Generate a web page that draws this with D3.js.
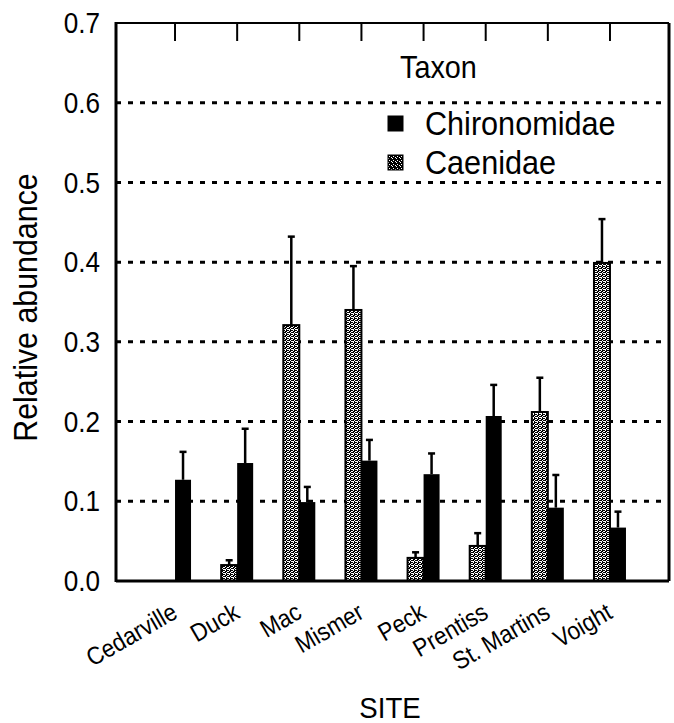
<!DOCTYPE html>
<html>
<head>
<meta charset="utf-8">
<script src="https://cdn.jsdelivr.net/npm/d3@7"></script>
<style>
  html, body { margin: 0; padding: 0; background: #fff; }
  svg text { font-family: "Liberation Sans", Arial, Helvetica, sans-serif; fill: #000; }
</style>
</head>
<body>
<svg id="chart" width="674" height="723"></svg>
<script>
// Relative abundance of two taxa at eight sites (mean + upper error bar)
const sites = ["Cedarville", "Duck", "Mac", "Mismer", "Peck", "Prentiss", "St. Martins", "Voight"];
const chironomidae    = [0.127, 0.148, 0.099, 0.151, 0.134, 0.207, 0.092, 0.067];
const chironomidaeErr = [0.035, 0.043, 0.019, 0.026, 0.026, 0.039, 0.041, 0.020];
const caenidae        = [0.000, 0.020, 0.321, 0.340, 0.029, 0.044, 0.212, 0.399];
const caenidaeErr     = [0.000, 0.006, 0.111, 0.055, 0.007, 0.016, 0.043, 0.055];
const yTicks = [0.0, 0.1, 0.2, 0.3, 0.4, 0.5, 0.6, 0.7];
const gridValues = [0.1, 0.2, 0.3, 0.4, 0.5, 0.6];
const taxa = ["Chironomidae", "Caenidae"];

const svg = d3.select("#chart");
const plotLeft = 116, plotRight = 669, plotTop = 23, plotBottom = 581;
const barW = 16;

const x = d3.scalePoint().domain(sites).range([plotLeft, plotRight]).padding(0.95);
const y = d3.scaleLinear().domain([0, 0.7]).range([plotBottom, plotTop]);

// squeeze glyphs horizontally to get the narrow typeface look
function condense(sel, f) {
  sel.each(function () {
    const len = this.getComputedTextLength();
    d3.select(this).attr("textLength", len * f).attr("lengthAdjust", "spacingAndGlyphs");
  });
}

// stipple fills
const defs = svg.append("defs");
const stip = defs.append("pattern").attr("id", "stipple")
  .attr("patternUnits", "userSpaceOnUse").attr("width", 4).attr("height", 4);
stip.append("rect").attr("width", 4).attr("height", 4).attr("fill", "#fff");
[[0,0,2,1],[2,1,1,1],[0,2,1,1],[2,2,2,1],[1,3,2,1],[3,0,1,1]].forEach(d =>
  stip.append("rect").attr("x", d[0]).attr("y", d[1]).attr("width", d[2]).attr("height", d[3]).attr("fill", "#000"));
const stipDark = defs.append("pattern").attr("id", "stippleDark")
  .attr("patternUnits", "userSpaceOnUse").attr("width", 4).attr("height", 4);
stipDark.append("rect").attr("width", 4).attr("height", 4).attr("fill", "#000");
[[1,1],[3,2],[0,3]].forEach(d =>
  stipDark.append("rect").attr("x", d[0]).attr("y", d[1]).attr("width", 1).attr("height", 1).attr("fill", "#fff"));

// dotted gridlines
svg.append("g").selectAll("line").data(gridValues).join("line")
  .attr("x1", plotLeft).attr("x2", plotRight)
  .attr("y1", d => y(d)).attr("y2", d => y(d))
  .attr("stroke", "#000").attr("stroke-width", 3).attr("stroke-dasharray", "5,7");

// frame
svg.append("line").attr("x1", plotLeft).attr("x2", plotRight).attr("y1", plotTop).attr("y2", plotTop)
  .attr("stroke", "#000").attr("stroke-width", 2);
svg.append("line").attr("x1", plotRight).attr("x2", plotRight).attr("y1", plotTop).attr("y2", plotBottom)
  .attr("stroke", "#000").attr("stroke-width", 3);

// top ticks at each site
svg.append("g").selectAll("line").data(sites).join("line")
  .attr("x1", d => x(d)).attr("x2", d => x(d))
  .attr("y1", plotTop).attr("y2", plotTop + 18)
  .attr("stroke", "#000").attr("stroke-width", 2);

// bars
const rows = sites.map((s, i) => ({
  site: s,
  chi: chironomidae[i], chiErr: chironomidaeErr[i],
  cae: caenidae[i], caeErr: caenidaeErr[i]
}));

const bars = svg.append("g");
const caeRows = rows.filter(d => d.cae > 0);
bars.selectAll("rect.cae").data(caeRows).join("rect").attr("class", "cae")
  .attr("x", d => x(d.site) - barW).attr("width", barW)
  .attr("y", d => y(d.cae)).attr("height", d => y(0) - y(d.cae))
  .attr("fill", "url(#stipple)").attr("stroke", "#000").attr("stroke-width", 2);
bars.selectAll("rect.chi").data(rows).join("rect").attr("class", "chi")
  .attr("x", d => x(d.site)).attr("width", barW)
  .attr("y", d => y(d.chi)).attr("height", d => y(0) - y(d.chi))
  .attr("fill", "#000");

// upper error bars
const errs = [];
caeRows.forEach(d => errs.push({ cx: x(d.site) - barW / 2, v: d.cae, e: d.caeErr }));
rows.forEach(d => errs.push({ cx: x(d.site) + barW / 2, v: d.chi, e: d.chiErr }));
const eg = svg.append("g").attr("stroke", "#000").attr("stroke-width", 2.5);
eg.selectAll("line.v").data(errs).join("line").attr("class", "v")
  .attr("x1", d => d.cx).attr("x2", d => d.cx)
  .attr("y1", d => y(d.v)).attr("y2", d => y(d.v + d.e));
eg.selectAll("line.c").data(errs).join("line").attr("class", "c")
  .attr("x1", d => d.cx - 3.5).attr("x2", d => d.cx + 3.5)
  .attr("y1", d => y(d.v + d.e)).attr("y2", d => y(d.v + d.e));

// axis lines
svg.append("line").attr("x1", plotLeft).attr("x2", plotLeft).attr("y1", plotTop - 1).attr("y2", plotBottom + 1)
  .attr("stroke", "#000").attr("stroke-width", 3);
svg.append("line").attr("x1", plotLeft).attr("x2", plotRight).attr("y1", plotBottom).attr("y2", plotBottom)
  .attr("stroke", "#000").attr("stroke-width", 3);

// y tick labels
const yl = svg.append("g").selectAll("text").data(yTicks).join("text")
  .attr("x", 100).attr("y", d => y(d)).attr("dy", "0.35em")
  .attr("text-anchor", "end").attr("font-size", 29)
  .text(d => d.toFixed(1));
condense(yl, 0.9);

// y title
const yt = svg.append("text")
  .attr("transform", `translate(37,${(170 + 445) / 2}) rotate(-90)`)
  .attr("text-anchor", "middle").attr("font-size", 33)
  .text("Relative abundance");
condense(yt, 0.92);

// x labels, slanted
const xl = svg.append("g").selectAll("text").data(sites).join("text")
  .attr("transform", d => `translate(${x(d) + 4},${plotBottom + 36}) rotate(-30)`)
  .attr("text-anchor", "end").attr("font-size", 25)
  .text(d => d);
condense(xl, 0.9);

// x title
const xt = svg.append("text").attr("x", 390).attr("y", 718)
  .attr("text-anchor", "middle").attr("font-size", 30).text("SITE");
condense(xt, 0.92);

// legend
const tx = svg.append("text").attr("x", 400).attr("y", 78).attr("font-size", 32).text("Taxon");
condense(tx, 0.9);
const lg = svg.append("g").selectAll("g").data(taxa).join("g")
  .attr("transform", (d, i) => `translate(388,${116 + i * 39})`);
lg.append("rect").attr("width", 15).attr("height", 15)
  .attr("fill", (d, i) => i === 0 ? "#000" : "url(#stippleDark)")
  .attr("stroke", "#000").attr("stroke-width", 1);
const lt = lg.append("text").attr("x", 37).attr("y", 19).attr("font-size", 34).text(d => d);
condense(lt, 0.9);
</script>
</body>
</html>
